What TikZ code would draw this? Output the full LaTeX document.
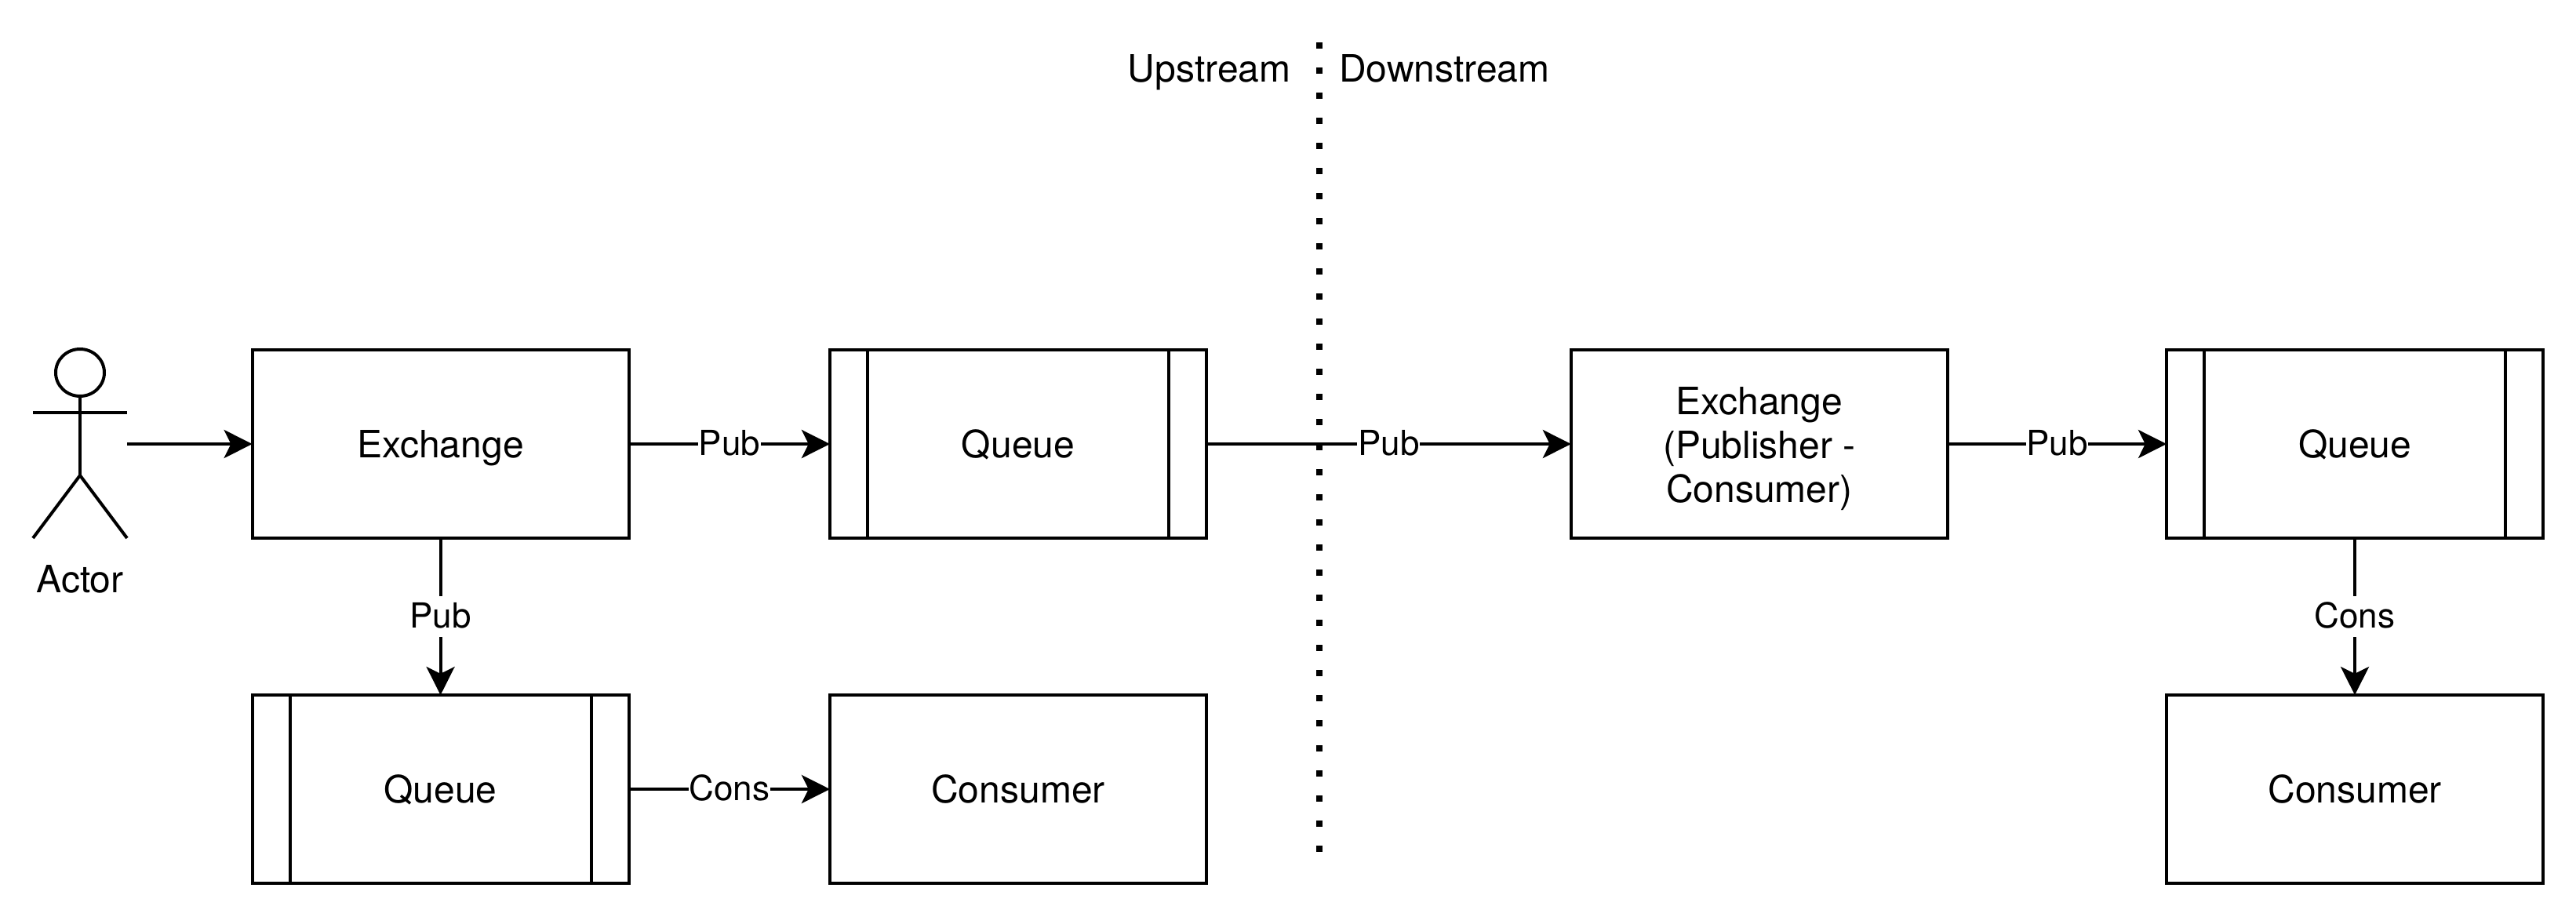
\documentclass[tikz,border=0pt]{standalone}
\usepackage{fontspec}
\setmainfont{TeX Gyre Heros}
\usetikzlibrary{arrows.meta}

\tikzset{
	box/.style = {draw, line width = 1pt, minimum width = 120pt, minimum height = 60pt, inner sep = 0pt, outer sep = 0pt, align = center, font = \fontsize{12}{14}\selectfont},
	line box/.style = {box, text height = 8.6pt, text depth = 0pt},
	plain text/.style = {font = \fontsize{12}{14}\selectfont, text height = 8.6pt, text depth = 0pt, inner sep = 0pt},
	link/.style = {draw, line width = 1pt, -{Stealth[length = 9pt, width = 9pt, inset = 2.2pt]}},
	link label/.style = {midway, fill = white, font = \fontsize{11}{13}\selectfont, text height = 10.2pt, text depth = 3pt, inner xsep = 0.2pt, inner ysep = 0pt}
}

\begin{document}
\begin{tikzpicture}[x = 1pt, y = -1pt]
		\def\top{141.5};
		\def\bottom{251.5};
		\def\colA{140.4};
		\def\colB{324.5};
		\def\colC{560.7};
		\def\colD{750.5};
		\def\actor{25.5};
		\def\split{420.4};
		
		\useasboundingbox (0,0) rectangle (821,292);
		
		\node at (\colA,\top) [line box] (exchange) {Exchange};
		\node at (\colB,\top) [line box] (queue top) {Queue};
		\node at (\colA,\bottom) [line box] (queue bottom) {Queue};
		\node at (\colB,\bottom) [line box] (consumer left) {Consumer};
		\node at (\colC,\top) [box] (exchange right) {\rule{0pt}{11.6pt}Exchange\\(Publisher -\\Consumer)};
		\node at (\colD,\top) [line box] (queue right) {Queue};
		\node at (\colD,\bottom) [line box] (consumer right) {Consumer};
		
		\foreach \q in {queue top, queue bottom, queue right} {
			\draw [line width = 1pt] ([xshift = 12pt]\q.north west) -- ([xshift = 12pt]\q.south west);
			\draw [line width = 1pt] ([xshift = -12pt]\q.north east) -- ([xshift = -12pt]\q.south east);
		}
		
		\draw [line width = 1pt] (\actor,118.75) circle [x radius = 7.75, y radius = 7.5];
		\draw [line width = 1pt] (\actor,126.25) -- (\actor,151.5);
		\draw [line width = 1pt] (10.5,131.5) -- (40.5,131.5);
		\draw [line width = 1pt] (10.5,171.5) -- (\actor,151.5) -- (40.5,171.5);
		\node at (\actor,184.5) [plain text] (actor label) {Actor};
		
		\coordinate (actor hand) at (40.5,\top);
		\path [link] (actor hand) -- (exchange);
		
		\path [link] (exchange) -- (queue top) node [link label] (pub a) {Pub};
		\path [link] (exchange) -- (queue bottom) node [link label] (pub b) {Pub};
		\path [link] (queue bottom) -- (consumer left) node [link label] (cons a) {Cons};
		\path [link] (queue top) -- (exchange right) node [link label] (pub c) {Pub};
		\path [link] (exchange right) -- (queue right) node [link label] (pub d) {Pub};
		\path [link] (queue right) -- (consumer right) node [link label] (cons b) {Cons};
		
		\coordinate (split top) at (\split,13.5);
		\coordinate (split bottom) at (\split,271.5);
		\draw [line width = 2pt, dash pattern = on 2pt off 6pt] (split top) -- (split bottom);
		
		\node at (385.4,21.7) [plain text] (upstream) {Upstream};
		\node at (460.3,21.7) [plain text] (downstream) {Downstream};
	\end{tikzpicture}
\end{document}
